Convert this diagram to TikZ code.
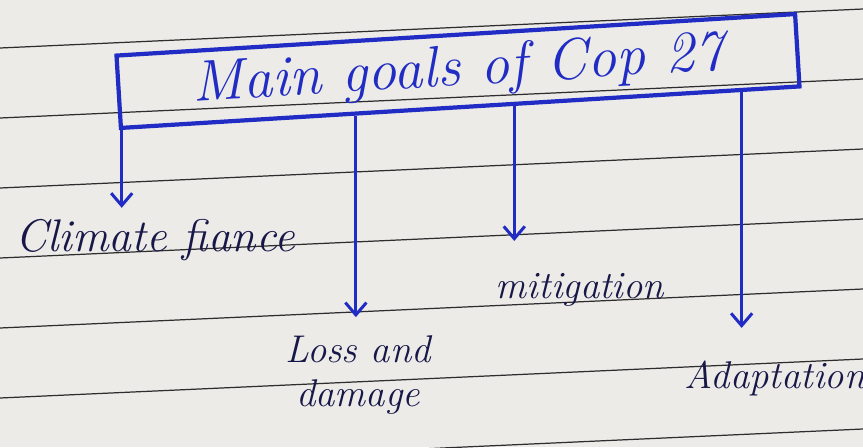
\documentclass[tikz,border=0pt]{standalone}
\usetikzlibrary{arrows.meta,calc}
\definecolor{ink}{RGB}{32,44,196}
\definecolor{pen}{RGB}{24,24,72}
\definecolor{paper}{RGB}{236,235,232}
\definecolor{ruling}{RGB}{45,45,45}
\tikzstyle{goalbox}=[draw=ink,line width=2.4pt,rotate=3.5,minimum width=13.6cm,minimum height=1.45cm,inner sep=0pt,text=ink,font=\fontsize{33}{38}\selectfont\itshape]
\tikzstyle{goal}=[text=pen,font=\fontsize{22}{25}\selectfont\itshape,align=center]
\tikzstyle{dgraph}=[-{Straight Barb[length=7pt,width=12pt]},draw=ink,line width=1.7pt]

\begin{document}
\begin{tikzpicture}[x=0.02cm,y=-0.02cm]
\useasboundingbox[fill=paper] (0,0) rectangle (863,447);
\foreach \y in {48,118,188,258,328,398,468}
  \draw[ruling,line width=0.7pt] (0,\y) -- (863,\y-39);

\node[goalbox] (cop) at (458,71) {\raisebox{-7pt}{Main goals of Cop 27}};
\node[goal,font=\fontsize{26}{30}\selectfont\itshape] (fin) at (155,240) {Climate fiance};
\node[goal] (loss) at (358,375) {Loss and\\damage};
\node[goal] (mit) at (580,290) {mitigation};
\node[goal] (ada) at (775,378) {Adaptation};

\coordinate (c1) at ($(cop.south west)!0.004!(cop.south east)$);
\coordinate (c2) at ($(cop.south west)!0.347!(cop.south east)$);
\coordinate (c3) at ($(cop.south west)!0.579!(cop.south east)$);
\coordinate (c4) at ($(cop.south west)!0.912!(cop.south east)$);
\draw[dgraph,shorten >=3pt] (c1) -- (c1 |- fin.north);
\draw[dgraph,shorten >=7pt] (c2) -- (c2 |- loss.north);
\draw[dgraph,shorten >=15pt] (c3) -- (c3 |- mit.north);
\draw[dgraph,shorten >=15pt] (c4) -- (c4 |- ada.north);
\end{tikzpicture}
\end{document}
